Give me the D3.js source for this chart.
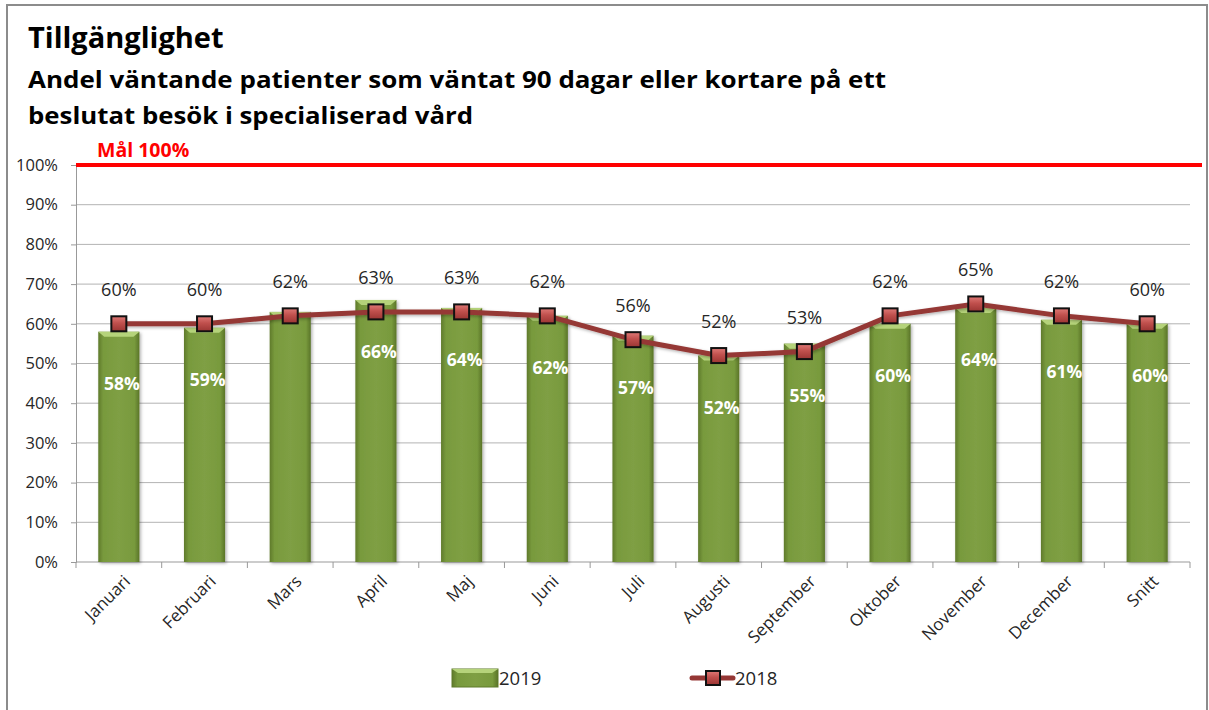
<!DOCTYPE html>
<html>
<head>
<meta charset="utf-8">
<script src="https://cdn.jsdelivr.net/npm/d3@7"></script>
<style>
  body { margin: 0; background: #fff; }
  svg { display: block; font-family: 'Open Sans', 'Liberation Sans', sans-serif; }
</style>
</head>
<body>
<div id="chart-area"></div>
<script>
const months = ['Januari', 'Februari', 'Mars', 'April', 'Maj', 'Juni', 'Juli',
    'Augusti', 'September', 'Oktober', 'November', 'December', 'Snitt'];
const values2019 = [58, 59, 63, 66, 64, 62, 57, 52, 55, 60, 64, 61, 60];
const labels2019 = [58, 59, null, 66, 64, 62, 57, 52, 55, 60, 64, 61, 60];
const values2018 = [60, 60, 62, 63, 63, 62, 56, 52, 53, 62, 65, 62, 60];
const yTicks = [0, 10, 20, 30, 40, 50, 60, 70, 80, 90, 100];
const target = 100;

const W = 1209, H = 710;
const margin = {left: 76, right: 19, top: 165, bottom: 148};
const width = W - margin.left - margin.right,
    height = H - margin.top - margin.bottom;

const svg = d3.select('#chart-area')
    .append('svg')
    .attr('width', W)
    .attr('height', H);

const defs = svg.append('defs');

// bar gradient: darker edges, lighter middle
const bg = defs.append('linearGradient').attr('id', 'barGrad')
    .attr('x1', '0').attr('x2', '1').attr('y1', '0').attr('y2', '0');
bg.append('stop').attr('offset', '0%').attr('stop-color', '#5f7a2b');
bg.append('stop').attr('offset', '12%').attr('stop-color', '#789a3d');
bg.append('stop').attr('offset', '50%').attr('stop-color', '#7f9f44');
bg.append('stop').attr('offset', '88%').attr('stop-color', '#789a3d');
bg.append('stop').attr('offset', '100%').attr('stop-color', '#5a7428');

const mg = defs.append('linearGradient').attr('id', 'markGrad')
    .attr('x1', '0').attr('x2', '0').attr('y1', '0').attr('y2', '1');
mg.append('stop').attr('offset', '0%').attr('stop-color', '#e07a77');
mg.append('stop').attr('offset', '45%').attr('stop-color', '#c0504d');
mg.append('stop').attr('offset', '100%').attr('stop-color', '#9b3533');

const shadow = defs.append('filter').attr('id', 'shadow')
    .attr('x', '-20%').attr('y', '-20%').attr('width', '140%').attr('height', '140%');
shadow.append('feDropShadow').attr('dx', 1.5).attr('dy', 1.5)
    .attr('stdDeviation', 1.5).attr('flood-color', '#000').attr('flood-opacity', 0.3);

// outer frame
svg.append('rect')
    .attr('x', 7).attr('y', 5)
    .attr('width', W - 9).attr('height', H - 4)
    .attr('fill', 'none')
    .attr('stroke', '#8c8c8c')
    .attr('stroke-width', 2);

// titles
svg.append('text')
    .text('Tillgänglighet')
    .attr('x', 28).attr('y', 48)
    .attr('font-size', '29px')
    .attr('font-weight', 'bold')
    .attr('fill', '#000');

const subtitle = ['Andel väntande patienter som väntat 90 dagar eller kortare på ett',
    'beslutat besök i specialiserad vård'];
const subtitleWidth = [858, 445];
subtitle.forEach((line, i) => {
    svg.append('text')
        .text(line)
        .attr('x', 28).attr('y', 88 + i * 36)
        .attr('font-size', '23px')
        .attr('font-weight', 'bold')
        .attr('textLength', subtitleWidth[i])
        .attr('lengthAdjust', 'spacingAndGlyphs')
        .attr('fill', '#000');
});

const g = svg.append('g')
    .attr('transform', 'translate(' + margin.left + ', ' + margin.top + ')');

const xScale = d3.scaleBand()
    .domain(months)
    .range([0, width])
    .paddingInner(0.52)
    .paddingOuter(0.26);

const yScale = d3.scaleLinear()
    .domain([0, 100])
    .range([height, 0]);

// grid
g.append('g')
    .selectAll('line')
    .data(yTicks.filter(d => d > 0))
    .join('line')
    .attr('x1', 0).attr('x2', width)
    .attr('y1', d => yScale(d)).attr('y2', d => yScale(d))
    .attr('stroke', '#b3b3b3')
    .attr('stroke-width', 1);

// y axis
const yAxisGroup = g.append('g')
    .call(d3.axisLeft(yScale).tickValues(yTicks).tickSize(5).tickFormat(d => d + '%'));
yAxisGroup.select('.domain').attr('stroke', '#999');
yAxisGroup.selectAll('.tick line').attr('stroke', '#999');
yAxisGroup.selectAll('.tick text')
    .attr('x', -18)
    .attr('font-size', '16.5px')
    .attr('font-family', "'Open Sans', sans-serif")
    .attr('fill', '#262626');

// x axis
const xAxisGroup = g.append('g')
    .attr('transform', 'translate(0, ' + height + ')');
xAxisGroup.append('line')
    .attr('x1', 0).attr('x2', width)
    .attr('stroke', '#999');
xAxisGroup.selectAll('.xtick')
    .data(d3.range(months.length + 1))
    .join('line')
    .attr('x1', i => i * xScale.step())
    .attr('x2', i => i * xScale.step())
    .attr('y1', 0).attr('y2', 6)
    .attr('stroke', '#999');
xAxisGroup.selectAll('.xlab')
    .data(months)
    .join('text')
    .text(d => d)
    .attr('transform', d => 'translate(' + (xScale(d) + xScale.bandwidth() / 2 + 4) + ', 12) rotate(-45)')
    .attr('text-anchor', 'end')
    .attr('dy', '0.7em')
    .attr('font-size', '17px')
    .attr('fill', '#262626');

// bars
const bars = g.append('g').selectAll('g')
    .data(months)
    .join('g')
    .attr('filter', 'url(#shadow)');
bars.append('rect')
    .attr('x', d => xScale(d))
    .attr('y', (d, i) => yScale(values2019[i]))
    .attr('width', xScale.bandwidth())
    .attr('height', (d, i) => height - yScale(values2019[i]))
    .attr('fill', 'url(#barGrad)');
// bevel at the top
bars.append('path')
    .attr('d', (d, i) => {
        const x0 = xScale(d), x1 = x0 + xScale.bandwidth(), y0 = yScale(values2019[i]);
        return 'M' + x0 + ',' + y0 + 'L' + x1 + ',' + y0 + 'L' + (x1 - 6) + ',' + (y0 + 5) +
            'L' + (x0 + 6) + ',' + (y0 + 5) + 'Z';
    })
    .attr('fill', '#b5d37a');

// bar labels
g.append('g').selectAll('text')
    .data(months)
    .join('text')
    .filter((d, i) => labels2019[i] !== null)
    .text(d => labels2019[months.indexOf(d)] + '%')
    .attr('x', d => xScale(d) + xScale.bandwidth() / 2 + 3)
    .attr('y', d => yScale(values2019[months.indexOf(d)]) + 58)
    .attr('text-anchor', 'middle')
    .attr('font-size', '17.5px')
    .attr('font-weight', 'bold')
    .attr('fill', '#fff');

// target line
g.append('line')
    .attr('x1', 0).attr('x2', W - margin.left - 7)
    .attr('y1', yScale(target)).attr('y2', yScale(target))
    .attr('stroke', '#ff0000')
    .attr('stroke-width', 4);
g.append('text')
    .text('Mål ' + target + '%')
    .attr('x', 21).attr('y', yScale(target) - 8)
    .attr('font-size', '19.5px')
    .attr('font-weight', 'bold')
    .attr('fill', '#ff0000');

// 2018 line
const cx = d => xScale(d) + xScale.bandwidth() / 2;
const line = d3.line()
    .x((d, i) => cx(months[i]))
    .y(d => yScale(d));
g.append('path')
    .datum(values2018)
    .attr('d', line)
    .attr('fill', 'none')
    .attr('stroke', '#953735')
    .attr('stroke-width', 5)
    .attr('stroke-linejoin', 'round')
    .attr('filter', 'url(#shadow)');

const ms = 15;
g.append('g').selectAll('rect')
    .data(values2018)
    .join('rect')
    .attr('x', (d, i) => cx(months[i]) - ms / 2)
    .attr('y', d => yScale(d) - ms / 2)
    .attr('width', ms).attr('height', ms)
    .attr('fill', 'url(#markGrad)')
    .attr('stroke', '#111')
    .attr('stroke-width', 2);

g.append('g').selectAll('text')
    .data(values2018)
    .join('text')
    .text(d => d + '%')
    .attr('x', (d, i) => cx(months[i]))
    .attr('y', d => yScale(d) - 28)
    .attr('text-anchor', 'middle')
    .attr('font-size', '18px')
    .attr('fill', '#262626');

// legend
const legend = svg.append('g').attr('transform', 'translate(452, 669)');
legend.append('rect')
    .attr('width', 46).attr('height', 18)
    .attr('fill', 'url(#barGrad)')
    .attr('stroke', '#5f7a2b');
legend.append('path')
    .attr('d', 'M0,0L46,0L40,4L6,4Z')
    .attr('fill', '#b5d37a');
legend.append('text')
    .text('2019')
    .attr('x', 47).attr('y', 16)
    .attr('font-size', '18.5px')
    .attr('fill', '#262626');

legend.append('line')
    .attr('x1', 240).attr('x2', 281)
    .attr('y1', 9).attr('y2', 9)
    .attr('stroke', '#953735')
    .attr('stroke-width', 5)
    .attr('stroke-linecap', 'round');
legend.append('rect')
    .attr('x', 261 - 7).attr('y', 9 - 7)
    .attr('width', 14).attr('height', 14)
    .attr('fill', 'url(#markGrad)')
    .attr('stroke', '#111')
    .attr('stroke-width', 2);
legend.append('text')
    .text('2018')
    .attr('x', 283).attr('y', 16)
    .attr('font-size', '18.5px')
    .attr('fill', '#262626');
</script>
</body>
</html>
